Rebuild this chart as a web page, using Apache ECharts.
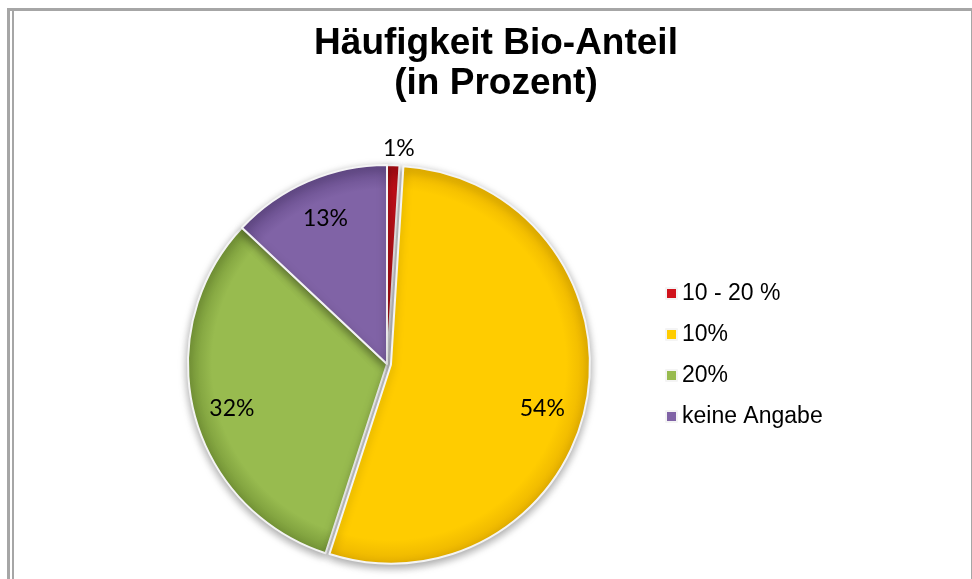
<!DOCTYPE html>
<html>
<head>
<meta charset="utf-8">
<script src="https://cdn.jsdelivr.net/npm/echarts@6/dist/echarts.min.js"></script>
<style>
html,body{margin:0;padding:0;background:#fff;}
#frame{position:absolute;left:7px;top:8px;width:961px;height:600px;border-top:3px solid #a6a6a6;border-left:3px solid #a6a6a6;border-right:2px solid #a6a6a6;}
#inner{position:absolute;left:12px;top:11px;width:2px;height:600px;background:#a6a6a6;}
#chart{position:absolute;left:0;top:0;width:972px;height:579px;}
</style>
</head>
<body>
<div id="frame"></div>
<div id="inner"></div>
<div id="chart"></div>
<script>
const titleText = 'Häufigkeit Bio-Anteil\n(in Prozent)';
const categories = ['10 - 20 %', '10%', '20%', 'keine Angabe'];
const values = [1, 54, 32, 13];
const baseColors = ['#d0121b', '#ffcc00', '#98bb4f', '#8063a6'];
const edgeColors = ['#a80d14', '#eab400', '#779838', '#654b8a'];

const cx = 387, cy = 364, R = 199;

function grad(i) {
  return {
    type: 'radial', x: cx, y: cy, r: R, global: true,
    colorStops: [
      {offset: 0, color: baseColors[i]},
      {offset: 0.88, color: baseColors[i]},
      {offset: 1, color: edgeColors[i]}
    ]
  };
}

const mainData = categories.map((c, i) => ({
  name: c, value: values[i],
  selected: i === 1,
  itemStyle: {color: grad(i)}
}));
const innerLabelData = categories.map((c, i) => ({
  name: c, value: values[i],
  label: {show: i !== 0}
}));
const topLabelData = categories.map((c, i) => ({
  name: c, value: values[i],
  label: {show: i === 0}
}));

const labelFont = {formatter: '{c}%', fontFamily: 'Lato', fontSize: 23, color: '#000'};

const chart = echarts.init(document.getElementById('chart'));
chart.setOption({
  animation: false,
  backgroundColor: 'transparent',
  title: {
    text: titleText,
    left: 491, top: 19, textAlign: 'center',
    textStyle: {fontFamily: 'Liberation Sans', fontWeight: 'bold', fontSize: 37, lineHeight: 40, color: '#000'}
  },
  legend: {
    orient: 'vertical',
    left: 660, top: 277,
    itemWidth: 11, itemHeight: 11, itemGap: 18,
    icon: 'rect',
    data: categories.map((c, i) => ({name: c, itemStyle: {color: baseColors[i]}})),
    textStyle: {fontFamily: 'Liberation Sans', fontSize: 23, color: '#000', lineHeight: 23}
  },
  series: [
    {
      type: 'pie', z: 2,
      center: [cx, cy], radius: R,
      startAngle: 90, clockwise: true,
      selectedMode: 'single', selectedOffset: 4,
      silent: true,
      label: {show: false}, labelLine: {show: false},
      itemStyle: {borderColor: '#f4f4f4', borderWidth: 2, shadowBlur: 8, shadowOffsetY: 3, shadowColor: 'rgba(0,0,0,0.35)'},
      data: mainData
    },
    {
      type: 'pie', z: 5,
      center: [cx, cy], radius: 155,
      startAngle: 90, clockwise: true,
      silent: true,
      avoidLabelOverlap: false,
      itemStyle: {color: 'rgba(0,0,0,0)', borderWidth: 0},
      label: Object.assign({position: 'outside', distanceToLabelLine: 0}, labelFont),
      labelLine: {show: false, length: 0, length2: 0},
      labelLayout: function (p) {
        if (p.dataIndex === 1) return {align: 'center', dx: 3, dy: 16};
        if (p.dataIndex === 2) return {align: 'center', dx: -5, dy: 6};
        return {align: 'center', dy: -3};
      },
      data: innerLabelData
    },
    {
      type: 'pie', z: 5,
      center: [cx, cy], radius: R,
      startAngle: 90, clockwise: true,
      silent: true,
      itemStyle: {color: 'rgba(0,0,0,0)', borderWidth: 0},
      label: Object.assign({position: 'outside'}, labelFont),
      labelLine: {show: false, length: 17, length2: 0},
      labelLayout: {align: 'center'},
      data: topLabelData
    }
  ]
});
</script>
</body>
</html>
